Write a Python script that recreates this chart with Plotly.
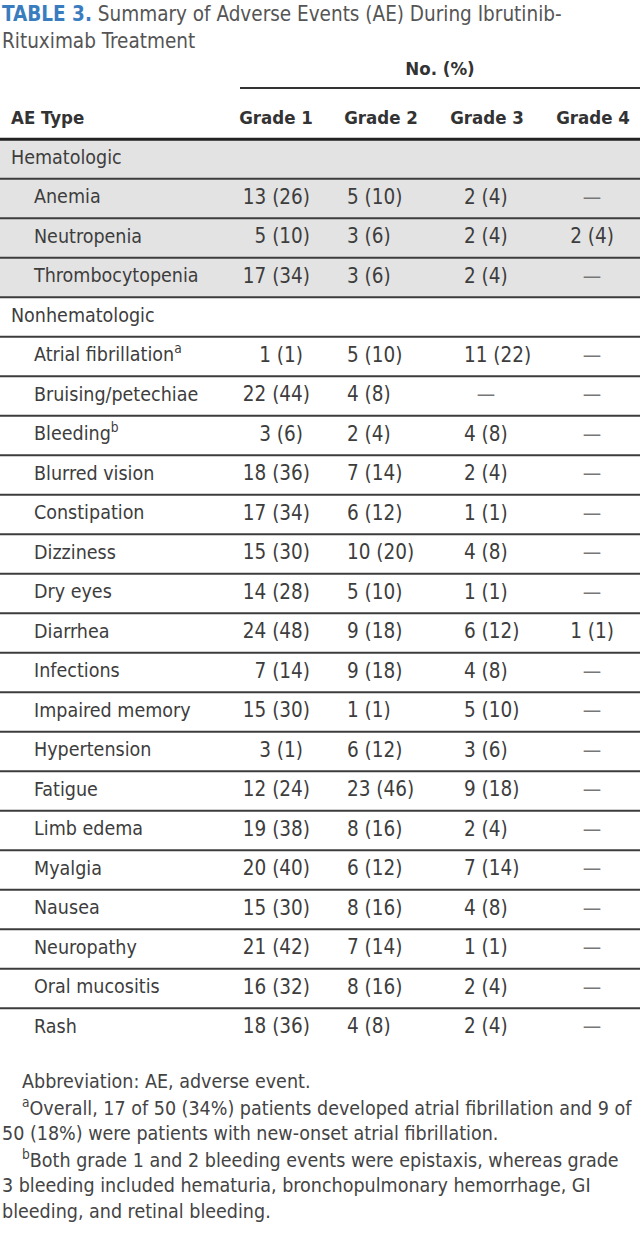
import plotly.graph_objects as go

# ---------------- data ----------------
title_label = "TABLE 3."
title_text = "Summary of Adverse Events (AE) During Ibrutinib-"
title_text2 = "Rituximab Treatment"
span_header = "No. (%)"
col_headers = ["AE Type", "Grade 1", "Grade 2", "Grade 3", "Grade 4"]

sections = ["Hematologic", "Nonhematologic"]

hema_types = ["Anemia", "Neutropenia", "Thrombocytopenia"]
hema_g1 = ["13 (26)", "5 (10)", "17 (34)"]
hema_g2 = ["5 (10)", "3 (6)", "3 (6)"]
hema_g3 = ["2 (4)", "2 (4)", "2 (4)"]
hema_g4 = ["—", "2 (4)", "—"]

nonhema_types = ["Atrial fibrillation<sup>a</sup>", "Bruising/petechiae", "Bleeding<sup>b</sup>",
                 "Blurred vision", "Constipation", "Dizziness", "Dry eyes", "Diarrhea",
                 "Infections", "Impaired memory", "Hypertension", "Fatigue", "Limb edema",
                 "Myalgia", "Nausea", "Neuropathy", "Oral mucositis", "Rash"]
nonhema_g1 = ["1 (1)", "22 (44)", "3 (6)", "18 (36)", "17 (34)", "15 (30)", "14 (28)", "24 (48)",
              "7 (14)", "15 (30)", "3 (1)", "12 (24)", "19 (38)", "20 (40)", "15 (30)", "21 (42)",
              "16 (32)", "18 (36)"]
nonhema_g2 = ["5 (10)", "4 (8)", "2 (4)", "7 (14)", "6 (12)", "10 (20)", "5 (10)", "9 (18)",
              "9 (18)", "1 (1)", "6 (12)", "23 (46)", "8 (16)", "6 (12)", "8 (16)", "7 (14)",
              "8 (16)", "4 (8)"]
nonhema_g3 = ["11 (22)", "—", "4 (8)", "2 (4)", "1 (1)", "4 (8)", "1 (1)", "6 (12)",
              "4 (8)", "5 (10)", "3 (6)", "9 (18)", "2 (4)", "7 (14)", "4 (8)", "1 (1)",
              "2 (4)", "2 (4)"]
nonhema_g4 = ["—", "—", "—", "—", "—", "—", "—", "1 (1)",
              "—", "—", "—", "—", "—", "—", "—", "—", "—", "—"]

footnotes = [
    "Abbreviation: AE, adverse event.",
    "<sup>a</sup>Overall, 17 of 50 (34%) patients developed atrial fibrillation and 9 of",
    "50 (18%) were patients with new-onset atrial fibrillation.",
    "<sup>b</sup>Both grade 1 and 2 bleeding events were epistaxis, whereas grade",
    "3 bleeding included hematuria, bronchopulmonary hemorrhage, GI",
    "bleeding, and retinal bleeding.",
]
footnote_indent = [True, True, False, True, False, False]

# ---------------- build rows ----------------
rows = []  # (label, is_section, g1, g2, g3, g4)
rows.append((sections[0], True, "", "", "", ""))
for t, a, b, c, d in zip(hema_types, hema_g1, hema_g2, hema_g3, hema_g4):
    rows.append((t, False, a, b, c, d))
rows.append((sections[1], True, "", "", "", ""))
for t, a, b, c, d in zip(nonhema_types, nonhema_g1, nonhema_g2, nonhema_g3, nonhema_g4):
    rows.append((t, False, a, b, c, d))
n_rows = len(rows)
n_hema = 1 + len(hema_types)

# ---------------- style ----------------
W, H = 640, 1245
ROW0_PX, PITCH = 159, 39.5
FONT = "DejaVu Sans Condensed, Liberation Sans Narrow, Arial Narrow, sans-serif"
TXT = "#3d3d3d"
BLUE = "#3a7dbf"
GRAY_BG = "#e3e3e3"
LINE = "#3c3c3c"
FS_LABEL = 19.5
FS_NUM = 20.5
FS_HEAD = 18.5

y_top = -ROW0_PX / PITCH
y_bot = (H - ROW0_PX) / PITCH

fig = go.Figure()

# column x anchors (axis units = pixels across the table width)
COL_LABEL_SECTION = 11
COL_LABEL_ITEM = 34
G1_RIGHT, G1_CENTER = 310, 281
G2_LEFT = 347
G3_LEFT, G3_CENTER = 464, 486
G4_CENTER = 592
HEAD_CENTERS = [None, 276, 381, 487, 593]


def add_text(xs, ys, texts, pos, size=FS_NUM, color=TXT, weight=None):
    fig.add_trace(go.Scatter(
        x=xs, y=ys, text=texts, mode="text", textposition=pos,
        textfont=dict(family=FONT, size=size, color=color, weight=weight),
        hoverinfo="skip", showlegend=False, cliponaxis=False))


# labels
sec_y = [i for i, r in enumerate(rows) if r[1]]
sec_t = [r[0] for r in rows if r[1]]
add_text([COL_LABEL_SECTION] * len(sec_y), sec_y, sec_t, "middle right", size=FS_LABEL)
it_y = [i for i, r in enumerate(rows) if not r[1]]
it_t = [r[0] for r in rows if not r[1]]
add_text([COL_LABEL_ITEM] * len(it_y), it_y, it_t, "middle right", size=FS_LABEL)

# Grade 1: short values centered, others right aligned
g1_short = [(i, r[2]) for i, r in enumerate(rows) if r[2] and len(r[2]) <= 5]
g1_long = [(i, r[2]) for i, r in enumerate(rows) if r[2] and len(r[2]) > 5]
add_text([G1_CENTER] * len(g1_short), [a for a, _ in g1_short], [b for _, b in g1_short], "middle center")
add_text([G1_RIGHT] * len(g1_long), [a for a, _ in g1_long], [b for _, b in g1_long], "middle left")

# Grade 2: left aligned
g2 = [(i, r[3]) for i, r in enumerate(rows) if r[3]]
add_text([G2_LEFT] * len(g2), [a for a, _ in g2], [b for _, b in g2], "middle right")

# Grade 3: left aligned, dashes centered
g3v = [(i, r[4]) for i, r in enumerate(rows) if r[4] and r[4] != "—"]
g3d = [(i, r[4]) for i, r in enumerate(rows) if r[4] == "—"]
add_text([G3_LEFT] * len(g3v), [a for a, _ in g3v], [b for _, b in g3v], "middle right")
add_text([G3_CENTER] * len(g3d), [a for a, _ in g3d], [b for _, b in g3d], "middle center", color="#777")

# Grade 4: centered
g4v = [(i, r[5]) for i, r in enumerate(rows) if r[5] and r[5] != "—"]
g4d = [(i, r[5]) for i, r in enumerate(rows) if r[5] == "—"]
add_text([G4_CENTER] * len(g4v), [a for a, _ in g4v], [b for _, b in g4v], "middle center")
add_text([G4_CENTER] * len(g4d), [a for a, _ in g4d], [b for _, b in g4d], "middle center", color="#777")

# column headers
HEAD_Y = -1
add_text([COL_LABEL_SECTION], [HEAD_Y], [col_headers[0]], "middle right", size=FS_HEAD, color="#333", weight="bold")
add_text(HEAD_CENTERS[1:], [HEAD_Y] * 4, col_headers[1:], "middle center", size=FS_HEAD, color="#333", weight="bold")
SPAN_Y = (70 - ROW0_PX) / PITCH
add_text([440], [SPAN_Y], [span_header], "middle center", size=FS_HEAD, color="#333", weight="bold")

shapes = []
# gray background for hematologic block
shapes.append(dict(type="rect", xref="x", yref="y", x0=0, x1=W, y0=-0.5, y1=n_hema - 0.5,
                   fillcolor=GRAY_BG, line=dict(width=0), layer="below"))
# row separators
for i in range(n_rows - 1):
    shapes.append(dict(type="line", xref="x", yref="y", x0=0, x1=W, y0=i + 0.5, y1=i + 0.5,
                       line=dict(color=LINE, width=1.8)))
# header rule
shapes.append(dict(type="line", xref="x", yref="y", x0=0, x1=W, y0=-0.5, y1=-0.5,
                   line=dict(color="#222", width=3)))
# spanner rule
SPAN_LINE_Y = (88 - ROW0_PX) / PITCH
shapes.append(dict(type="line", xref="x", yref="y", x0=240, x1=W, y0=SPAN_LINE_Y, y1=SPAN_LINE_Y,
                   line=dict(color="#333", width=1.8)))

annotations = []
# title
annotations.append(dict(xref="x", yref="y", x=0, y=(14 - ROW0_PX) / PITCH, xanchor="left", yanchor="middle",
                        showarrow=False,
                        text=f"<span style='color:{BLUE}; font-weight:bold'>{title_label}</span> "
                             f"<span style='color:#555'>{title_text}</span>",
                        font=dict(family=FONT, size=20.5, color="#555")))
annotations.append(dict(xref="x", yref="y", x=0, y=(41 - ROW0_PX) / PITCH, xanchor="left", yanchor="middle",
                        showarrow=False, text=title_text2,
                        font=dict(family=FONT, size=20.5, color="#555")))
# footnotes
for k, (t, ind) in enumerate(zip(footnotes, footnote_indent)):
    ypx = 1081 + 26 * k
    annotations.append(dict(xref="x", yref="y", x=20 if ind else 0, y=(ypx - ROW0_PX) / PITCH,
                            xanchor="left", yanchor="middle", showarrow=False, text=t,
                            font=dict(family=FONT, size=19.5, color="#444")))

fig.update_layout(
    width=W, height=H, margin=dict(l=0, r=0, t=0, b=0),
    paper_bgcolor="white", plot_bgcolor="white",
    xaxis=dict(range=[0, W], visible=False, fixedrange=True),
    yaxis=dict(range=[y_bot, y_top], visible=False, fixedrange=True),
    shapes=shapes, annotations=annotations, showlegend=False,
)

fig.write_html("out.html", config={"displayModeBar": False},
               post_script="document.body.style.margin='0px';document.body.style.overflow='hidden';")
